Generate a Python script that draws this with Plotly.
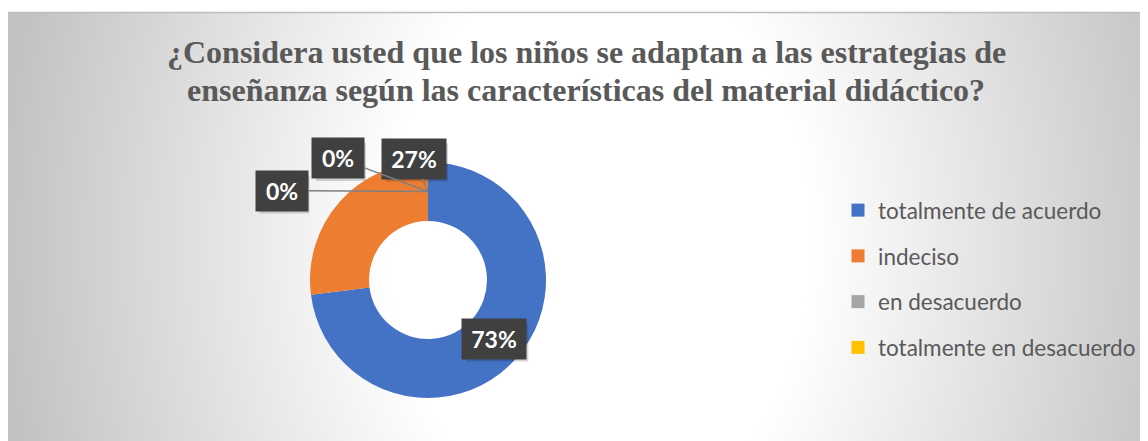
import plotly.graph_objects as go
import math

# ---- data ----
categories = ["totalmente de acuerdo", "indeciso", "en desacuerdo", "totalmente en desacuerdo"]
values = [73, 27, 0, 0]
colors = ["#4472C4", "#ED7D31", "#A5A5A5", "#FFC000"]
label_texts = [f"{v}%" for v in values]
title_lines = ["¿Considera usted que los niños se adaptan a las estrategias de",
               "enseñanza según las características del material didáctico?"]

# page body has an 8px margin, so the figure is 8px smaller than the window
W, H = 1140, 433
TOP = 4  # top of chart area (figure px)
# donut geometry (figure pixels)
CX, CY, R = 420, 272, 118
HOLE = 0.5

fig = go.Figure()

# background radial gradient (chart area), clipped by the plot area
gcx, gcy, ga, gb = 592, 232, 600, 800
fig.add_trace(go.Scatter(
    x=[gcx - ga, gcx + ga, gcx + ga, gcx - ga, gcx - ga],
    y=[gcy - gb, gcy - gb, gcy + gb, gcy + gb, gcy - gb],
    mode="lines", line=dict(width=0), fill="toself",
    fillgradient=dict(type="radial",
                      colorscale=[[0, "#ffffff"], [0.35, "#ffffff"], [1, "#c2c2c2"]]),
    hoverinfo="skip", showlegend=False))

# donut
fig.add_trace(go.Pie(
    labels=categories, values=values, hole=HOLE, sort=False, direction="clockwise",
    rotation=0, marker=dict(colors=colors, line=dict(width=0)),
    textinfo="none", showlegend=False,
    domain=dict(x=[(CX - R) / W, (CX + R) / W], y=[1 - (CY + R) / H, 1 - (CY - R) / H])))

# legend entries
for cat, col in zip(categories, colors):
    fig.add_trace(go.Scatter(x=[None], y=[None], mode="markers", name=cat,
                             legendgroup=cat,
                             marker=dict(symbol="square", size=13, color=col)))

# data label anchors from the data
total = sum(values)
rmid = R * (1 + HOLE) / 2
cum = 0
anchors = []
for v in values:
    mid = (cum + v / 2) / total * 2 * math.pi
    edge = (cum + v) / total * 2 * math.pi
    anchors.append((CX + rmid * math.sin(mid), CY - rmid * math.cos(mid),
                    CX + rmid * math.sin(edge), CY - rmid * math.cos(edge)))
    cum += v

# label box centers (moved out by best-fit for small slices)
label_pos = [None, (406, 150.5), (330, 150), (273.5, 182.5)]

annotations = []
shapes = [dict(type="line", xref="paper", yref="paper", x0=0, x1=1,
               y0=1 - (TOP + 0.5) / H, y1=1 - (TOP + 0.5) / H,
               line=dict(color="#bdbdbd", width=1.5))]
lab_font = dict(family="Lato, Open Sans, sans-serif", size=23, color="white")
BH = 38
for i, (txt, a) in enumerate(zip(label_texts, anchors)):
    bw = 62 if len(txt) > 2 else 50
    if label_pos[i] is None:
        lx, ly = a[0], a[1]
    else:
        lx, ly = label_pos[i]
    # soft shadow under the label box
    shapes.append(dict(type="rect", xref="x", yref="y", layer="above",
                       x0=lx - bw / 2 + 3, x1=lx + bw / 2 + 3,
                       y0=ly - BH / 2 + 4, y1=ly + BH / 2 + 4,
                       fillcolor="rgba(0,0,0,0.16)", line=dict(width=0)))
    if label_pos[i] is None:
        annotations.append(dict(x=lx, y=ly, xref="x", yref="y", text=f"<b>{txt}</b>",
                                showarrow=False, bgcolor="#404040", width=bw, height=BH,
                                font=lab_font))
    else:
        annotations.append(dict(x=a[2], y=a[3], xref="x", yref="y", ax=lx, ay=ly,
                                axref="x", ayref="y", text=f"<b>{txt}</b>",
                                showarrow=True, arrowhead=0, arrowwidth=1.5,
                                arrowcolor="#7f7f7f", standoff=0,
                                bgcolor="#404040", width=bw, height=BH, font=lab_font))

# title
for line, yy in zip(title_lines, [44, 82]):
    annotations.append(dict(x=578, y=yy, xref="x", yref="y", text=f"<b>{line}</b>",
                            showarrow=False, xanchor="center", yanchor="middle",
                            font=dict(family="Liberation Serif, Times New Roman, serif",
                                      size=32, color="#595959")))

fig.update_layout(
    width=W, height=H, margin=dict(l=0, r=0, t=0, b=0, autoexpand=False),
    paper_bgcolor="white", plot_bgcolor="rgba(0,0,0,0)",
    xaxis=dict(domain=[0, 1], range=[0, W], visible=False, fixedrange=True),
    yaxis=dict(domain=[0, 1 - TOP / H], range=[H, TOP], visible=False, fixedrange=True),
    shapes=shapes,
    annotations=annotations,
    legend=dict(x=830 / W, y=1 - 181 / H, xanchor="left", yanchor="top",
                bgcolor="rgba(0,0,0,0)", tracegroupgap=13.5,
                font=dict(family="Lato, Open Sans, sans-serif", size=22.5, color="#595959")),
)

fig.write_html("out.html")
